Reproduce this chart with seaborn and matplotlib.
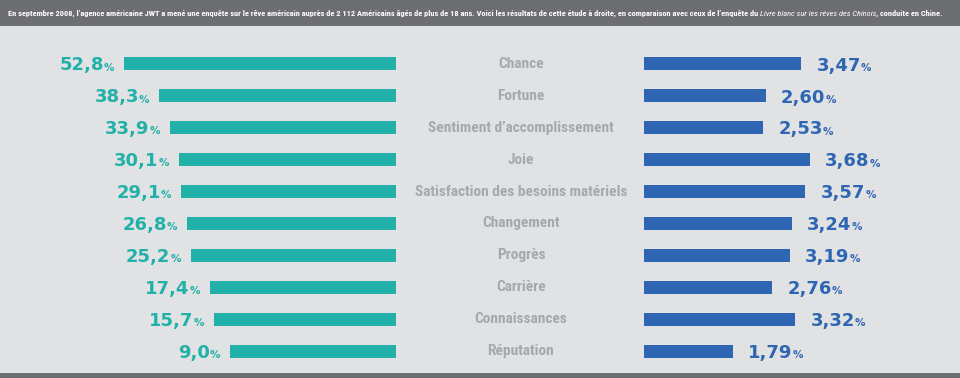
import matplotlib.pyplot as plt
import matplotlib.transforms as mtransforms
from matplotlib import font_manager as fm
from matplotlib.patches import Rectangle
import pandas as pd
import seaborn as sns

# values
categories = ["Chance", "Fortune", "Sentiment d’accomplissement", "Joie",
              "Satisfaction des besoins matériels", "Changement", "Progrès",
              "Carrière", "Connaissances", "Réputation"]
usa_pct = [52.8, 38.3, 33.9, 30.1, 29.1, 26.8, 25.2, 17.4, 15.7, 9.0]
chine_pct = [3.47, 2.60, 2.53, 3.68, 3.57, 3.24, 3.19, 2.76, 3.32, 1.79]

header_parts = [
    "En septembre 2008, l’agence américaine JWT a mené une enquête sur le rêve américain "
    "auprès de 2 112 Américains âgés de plus de 18 ans. Voici les résultats de cette étude "
    "à droite, en comparaison avec ceux de l’enquête du ",
    "Livre blanc sur les rêves des Chinois",
    ", conduite en Chine.",
]

BG = "#e1e2e4"
BAND = "#6d6e71"
TEAL = "#22b1a9"
BLUE = "#2f66b3"
LABEL_GREY = "#a6a8ab"


def pick_font(names):
    for name in names:
        try:
            fm.findfont(fm.FontProperties(family=name), fallback_to_default=False)
            return name
        except ValueError:
            continue
    return "DejaVu Sans"


NARROW = pick_font(["Liberation Sans Narrow", "DejaVu Sans Condensed", "Roboto Condensed",
                    "Open Sans Condensed", "Liberation Sans"])
NUM_FONT = "DejaVu Sans"

# bars in the original do not start at zero, they sit on a fixed stub
LEFT_BASE = 60.0
RIGHT_BASE = 0.37

sns.set_style("white")
plt.rcParams["font.family"] = ["DejaVu Sans"]

df = pd.DataFrame({"categorie": categories, "usa": usa_pct, "chine": chine_pct})

W, H = 960, 378
fig = plt.figure(figsize=(W / 100, H / 100), dpi=100, facecolor=BG)

# header band and bottom rule, drawn below everything else
fig.patches.append(Rectangle((0, 1 - 26 / H), 1, 26 / H, transform=fig.transFigure,
                             facecolor=BAND, edgecolor="none", zorder=-5))
fig.patches.append(Rectangle((0, 0), 1, 5 / H, transform=fig.transFigure,
                             facecolor=BAND, edgecolor="none", zorder=-5))

# rows: centre of first row at y=64px, pitch ~31.9px
top_px, bot_px = 48, 367
ax_l = fig.add_axes([30 / W, 1 - bot_px / H, 366 / W, (bot_px - top_px) / H])
ax_r = fig.add_axes([644 / W, 1 - bot_px / H, 300 / W, (bot_px - top_px) / H])

sns.barplot(x=df["usa"] + LEFT_BASE, y=df["categorie"], orient="h", color=TEAL,
            saturation=1, width=0.41, left=-LEFT_BASE, linewidth=0, errorbar=None, ax=ax_l)
sns.barplot(x=df["chine"] + RIGHT_BASE, y=df["categorie"], orient="h", color=BLUE,
            saturation=1, width=0.41, left=-RIGHT_BASE, linewidth=0, errorbar=None, ax=ax_r)

ax_l.set_xlim(91.9, -LEFT_BASE)
ax_r.set_xlim(-RIGHT_BASE, 6.95)
for ax in (ax_l, ax_r):
    ax.set_ylim(len(categories) - 0.5, -0.5)
    ax.set_facecolor("none")
    ax.set_xlabel("")
    ax.set_ylabel("")
    ax.set_xticks([])
    ax.set_yticks([])
    sns.despine(ax=ax, left=True, bottom=True)

num_size, pct_size = 13, 7.5
base_drop = -4.8   # put digit centres on the bar centres
desc_fix = 1.3     # baseline fix between big number and small %

for i, v in enumerate(df["usa"]):
    pct = ax_l.annotate("%", xy=(v, i), xytext=(-7, base_drop), textcoords="offset points",
                        ha="right", va="baseline", color=TEAL, fontsize=pct_size,
                        fontweight="bold", family=NUM_FONT)
    ax_l.annotate(f"{v:.1f}".replace(".", ","), xy=(0, 0), xycoords=pct,
                  xytext=(0, -desc_fix), textcoords="offset points",
                  ha="right", va="bottom", color=TEAL, fontsize=num_size,
                  fontweight="bold", family=NUM_FONT, annotation_clip=False)

for i, v in enumerate(df["chine"]):
    num = ax_r.annotate(f"{v:.2f}".replace(".", ","), xy=(v, i), xytext=(11, base_drop),
                        textcoords="offset points", ha="left", va="baseline", color=BLUE,
                        fontsize=num_size, fontweight="bold", family=NUM_FONT,
                        annotation_clip=False)
    ax_r.annotate("%", xy=(1, 0), xycoords=num, xytext=(0, desc_fix),
                  textcoords="offset points", ha="left", va="bottom", color=BLUE,
                  fontsize=pct_size, fontweight="bold", family=NUM_FONT,
                  annotation_clip=False)

# category names in the middle column
mid = mtransforms.blended_transform_factory(fig.transFigure, ax_r.transData)
cat_texts = [fig.text(521 / W, i, c, transform=mid, ha="center", va="center",
                      color=LABEL_GREY, fontsize=14, fontweight="bold", family=NARROW)
             for i, c in enumerate(df["categorie"])]

head_size = 8.5
t1 = fig.text(8 / W, 1 - 13 / H, header_parts[0], ha="left", va="center", color="white",
              fontsize=head_size, fontweight="bold", family=NARROW)
t2 = fig.add_artist(plt.Annotation(header_parts[1], xy=(1, 0), xycoords=t1, ha="left",
                                   va="bottom", color="white", fontsize=head_size,
                                   fontstyle="italic", family=NARROW,
                                   annotation_clip=False))
t3 = fig.add_artist(plt.Annotation(header_parts[2], xy=(1, 0), xycoords=t2, ha="left",
                                   va="bottom", color="white", fontsize=head_size,
                                   fontweight="bold", family=NARROW,
                                   annotation_clip=False))

# shrink header / middle labels so they fit like in the original
renderer = fig.canvas.get_renderer()
head_w = sum(t.get_window_extent(renderer).width for t in (t1, t2, t3))
scale = min(1.0, 944 / head_w)
for t in (t1, t2, t3):
    t.set_fontsize(head_size * scale)

widest = max(t.get_window_extent(renderer).width for t in cat_texts)
cat_scale = min(1.0, 214 / widest)
for t in cat_texts:
    t.set_fontsize(14 * cat_scale)

fig.savefig("out.png", dpi=100, facecolor=BG)
